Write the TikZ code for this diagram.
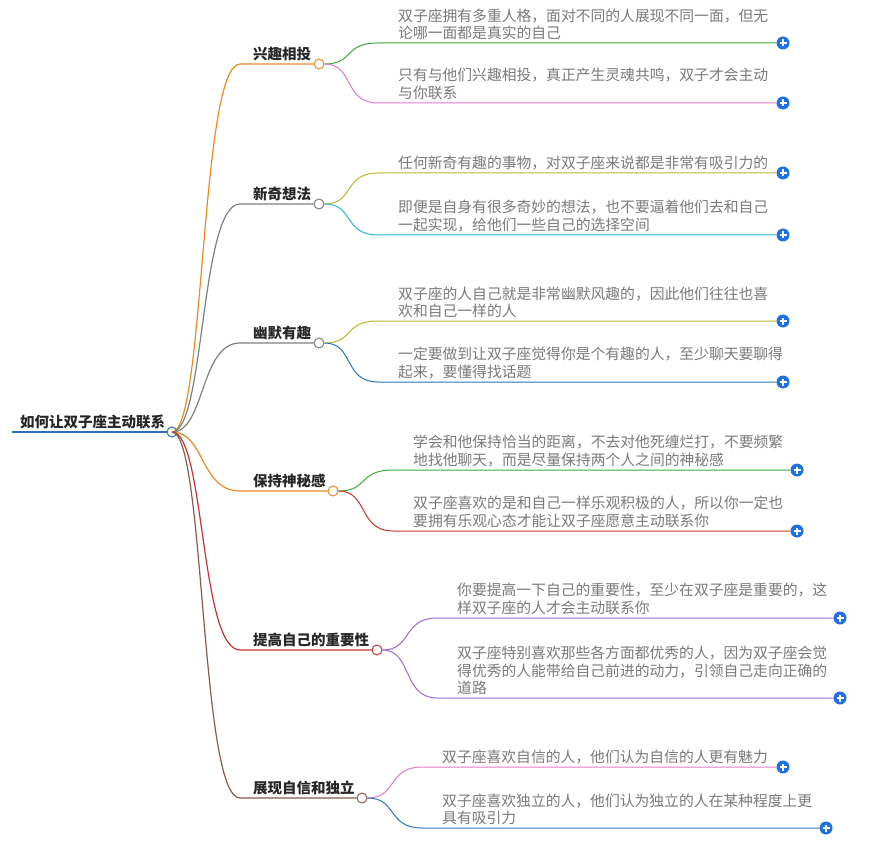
\documentclass[tikz,border=0pt]{standalone}
\usepackage{fontspec}
\setmainfont{Noto Sans CJK SC}
\definecolor{leafgray}{HTML}{7A7A7A}
\definecolor{plusblue}{HTML}{1F6FE5}
\definecolor{cOrange}{HTML}{F08A24}
\definecolor{cGreen}{HTML}{3DAA3D}
\definecolor{cPink}{HTML}{E27BC6}
\definecolor{cGray}{HTML}{7F7F7F}
\definecolor{cOlive}{HTML}{BDB82C}
\definecolor{cCyan}{HTML}{2CB8D0}
\definecolor{cBlue}{HTML}{2A74B8}
\definecolor{cRed}{HTML}{CC3333}
\definecolor{cPurple}{HTML}{A06ACB}
\definecolor{cBrown}{HTML}{8B5A4A}
\definecolor{rootblue}{HTML}{2A6FB8}
\tikzset{
  leaftext/.style={anchor=south west, align=left, text=leafgray, inner sep=0pt,
    font=\fontsize{14.8}{17.5}\selectfont},
  branchtext/.style={anchor=south west, inner sep=0pt, text=black!85,
    font=\fontsize{14.5}{17}\selectfont\bfseries},
  knob/.style={circle, draw=#1, fill=white, line width=1pt, inner sep=0pt, minimum size=10pt},
  plus/.style={circle, fill=plusblue, inner sep=0pt, minimum size=13pt,
    path picture={\draw[white, line width=1.3pt] (path picture bounding box.center) ++(-3.5pt,0) -- ++(7pt,0)
      (path picture bounding box.center) ++(0,-3.5pt) -- ++(0,7pt);}},
}
\newcommand\branch[5]{% name, y, knob x, colour, text
  \node[branchtext] (#1t) at (253,#2-3) {#5};
  \node[knob=#4] (#1) at (#3,#2) {};
  \draw[#4, line width=1.2pt] (root.center) .. controls (205,432) and (200,#2) .. (240,#2) -- (#1.west);
}
\newcommand\leaf[6]{% branch, name, y, text x, end x, colour, text
  \node[plus] (#2p) at (#5,#3) {};
  \draw[#6, line width=1pt] (#1.east) .. controls ($(#1.east)+(30,0)$) and (#4-55,#3) .. (#4-20,#3) -- (#2p.west);
}
\usetikzlibrary{calc}
\begin{document}
\begin{tikzpicture}[x=1pt, y=-1pt]
  \useasboundingbox (0,0) rectangle (876,845);
  \fill[white] (0,0) rectangle (876,845);

  % root
  \node[knob=rootblue] (root) at (172,432) {};
  \node[branchtext] (roott) at (20,429) {如何让双子座主动联系};
  \draw[rootblue, line width=2pt] (12,432) -- (root.west);

  \branch{b1}{64}{319}{cOrange}{兴趣相投}
  \branch{b2}{204}{319}{cGray}{新奇想法}
  \branch{b3}{343}{319}{cGray}{幽默有趣}
  \branch{b4}{491}{333}{cOrange}{保持神秘感}
  \branch{b5}{650}{377}{cRed}{提高自己的重要性}
  \branch{b6}{798}{362}{cBrown}{展现自信和独立}

  % leaves
  \leaf{b1}{l1a}{43}{398}{783}{cGreen}
  \node[leaftext] at (398,40) {双子座拥有多重人格，面对不同的人展现不同一面，但无\\论哪一面都是真实的自己};
  \leaf{b1}{l1b}{103}{398}{783}{cPink}
  \node[leaftext] at (398,100) {只有与他们兴趣相投，真正产生灵魂共鸣，双子才会主动\\与你联系};
  \leaf{b2}{l2a}{173}{398}{783}{cOlive}
  \node[leaftext] at (398,170) {任何新奇有趣的事物，对双子座来说都是非常有吸引力的};
  \leaf{b2}{l2b}{235}{398}{783}{cCyan}
  \node[leaftext] at (398,232) {即便是自身有很多奇妙的想法，也不要逼着他们去和自己\\一起实现，给他们一些自己的选择空间};
  \leaf{b3}{l3a}{321}{398}{783}{cOlive}
  \node[leaftext] at (398,318) {双子座的人自己就是非常幽默风趣的，因此他们往往也喜\\欢和自己一样的人};
  \leaf{b3}{l3b}{382}{398}{783}{cBlue}
  \node[leaftext] at (398,379) {一定要做到让双子座觉得你是个有趣的人，至少聊天要聊得\\起来，要懂得找话题};
  \leaf{b4}{l4a}{470}{413}{797}{cGreen}
  \node[leaftext] at (413,467) {学会和他保持恰当的距离，不去对他死缠烂打，不要频繁\\地找他聊天，而是尽量保持两个人之间的神秘感};
  \leaf{b4}{l4b}{531}{413}{797}{cRed}
  \node[leaftext] at (413,528) {双子座喜欢的是和自己一样乐观积极的人，所以你一定也\\要拥有乐观心态才能让双子座愿意主动联系你};
  \leaf{b5}{l5a}{618}{457}{840}{cPurple}
  \node[leaftext] at (457,615) {你要提高一下自己的重要性，至少在双子座是重要的，这\\样双子座的人才会主动联系你};
  \leaf{b5}{l5b}{698}{457}{840}{cPurple}
  \node[leaftext] at (457,695) {双子座特别喜欢那些各方面都优秀的人，因为双子座会觉\\得优秀的人能带给自己前进的动力，引领自己走向正确的\\道路};
  \leaf{b6}{l6a}{767}{442}{783}{cPink}
  \node[leaftext] at (442,764) {双子座喜欢自信的人，他们认为自信的人更有魅力};
  \leaf{b6}{l6b}{828}{442}{826}{cBlue}
  \node[leaftext] at (442,825) {双子座喜欢独立的人，他们认为独立的人在某种程度上更\\具有吸引力};
\end{tikzpicture}
\end{document}
